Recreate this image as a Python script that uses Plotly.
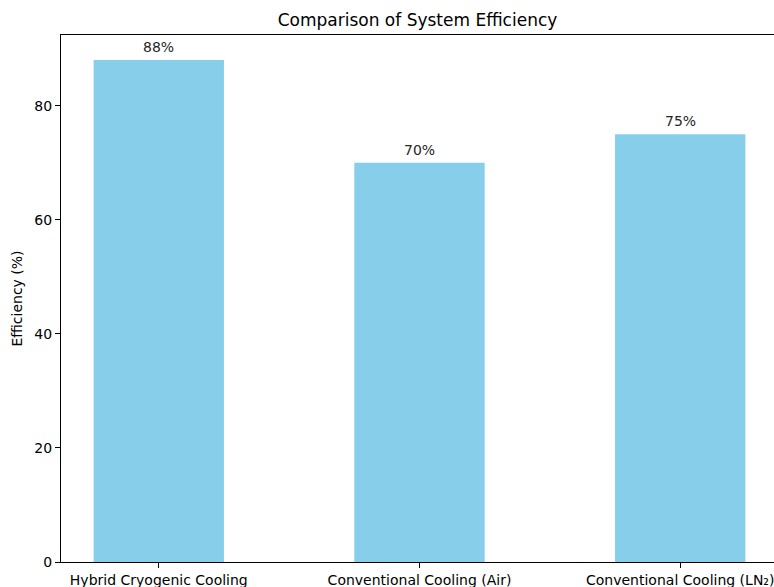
import plotly.graph_objects as go

# Efficiency per cooling approach
categories = ["Hybrid Cryogenic Cooling", "Conventional Cooling (Air)", "Conventional Cooling (LN\u2082)"]
efficiency = [88, 70, 75]
value_labels = ["88%", "70%", "75%"]
y_ticks = [0, 20, 40, 60, 80]

FONT = "DejaVu Sans"
x_pos = list(range(len(categories)))

fig = go.Figure()
fig.add_trace(go.Bar(
    x=x_pos,
    y=efficiency,
    width=0.5,
    marker=dict(color="#87CEEB", line=dict(width=0)),
    hoverinfo="skip",
))

# Value labels just above each bar
for xi, v, lab in zip(x_pos, efficiency, value_labels):
    fig.add_annotation(
        x=xi, y=v, text=lab, showarrow=False,
        yanchor="bottom", yshift=3,
        font=dict(family=FONT, size=14, color="#262626"),
    )

fig.update_layout(
    width=774, height=587,
    margin=dict(l=61, r=0, t=35, b=25),
    paper_bgcolor="white", plot_bgcolor="white",
    showlegend=False,
    title=dict(
        text="Comparison of System Efficiency",
        x=0.5, xref="paper", xanchor="center",
        y=1 - 20 / 587, yanchor="middle",
        font=dict(family=FONT, size=17, color="black"),
    ),
    font=dict(family=FONT, size=14, color="black"),
)

fig.update_xaxes(
    range=[-0.375, 2.3597],
    tickmode="array", tickvals=x_pos, ticktext=categories,
    ticks="outside", ticklen=5, tickwidth=1, tickcolor="black",
    ticklabeloverflow="allow",
    showline=True, linecolor="black", linewidth=1, mirror=True,
    showgrid=False, zeroline=False,
    tickfont=dict(family=FONT, size=14, color="black"),
)
fig.update_yaxes(
    range=[0, 92.4],
    tickmode="array", tickvals=y_ticks,
    ticks="outside", ticklen=5, tickwidth=1, tickcolor="black",
    showline=True, linecolor="black", linewidth=1, mirror=False,
    showgrid=False, zeroline=False,
    title=dict(text="Efficiency (%)", font=dict(family=FONT, size=14, color="black"), standoff=8),
    tickfont=dict(family=FONT, size=14, color="black"),
)

fig.write_html("out.html")
